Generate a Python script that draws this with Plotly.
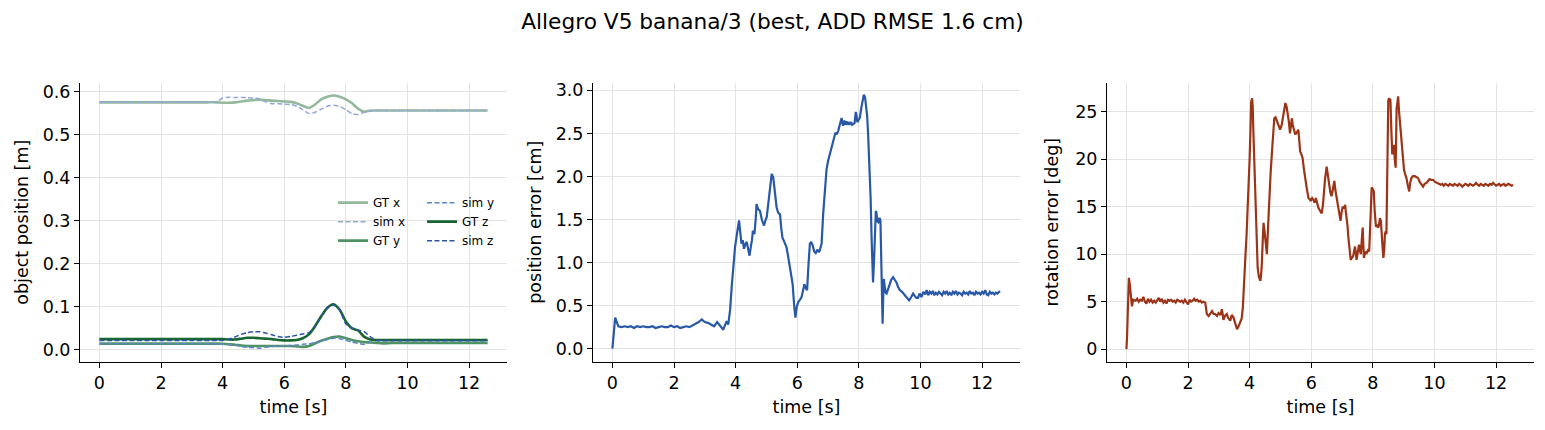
import plotly.graph_objects as go

# ---------------- data ----------------
t_obj = [0, 0.5, 1, 1.5, 2, 2.5, 3, 3.5, 3.8, 4.0, 4.2, 4.4, 4.6, 4.8, 5.0, 5.2, 5.4, 5.6, 5.8,
         6.0, 6.2, 6.4, 6.6, 6.8, 7.0, 7.2, 7.4, 7.6, 7.8, 8.0, 8.2, 8.4, 8.6, 8.8, 9.0, 9.2,
         9.5, 10, 10.5, 11, 11.5, 12, 12.6]
gt_x = [0.575, 0.575, 0.575, 0.575, 0.575, 0.575, 0.575, 0.575, 0.575, 0.574, 0.574, 0.575, 0.577,
        0.579, 0.580, 0.581, 0.580, 0.579, 0.578, 0.577, 0.576, 0.573, 0.567, 0.562, 0.570, 0.582,
        0.588, 0.591, 0.588, 0.582, 0.573, 0.560, 0.553, 0.556, 0.556, 0.556, 0.556, 0.556, 0.556,
        0.556, 0.556, 0.556, 0.556]
sim_x = [0.575, 0.575, 0.575, 0.575, 0.575, 0.575, 0.575, 0.575, 0.576, 0.585, 0.587, 0.586, 0.586,
         0.586, 0.585, 0.583, 0.576, 0.572, 0.572, 0.571, 0.570, 0.566, 0.558, 0.549, 0.552, 0.559,
         0.566, 0.568, 0.565, 0.558, 0.549, 0.547, 0.552, 0.555, 0.556, 0.556, 0.556, 0.556, 0.556,
         0.556, 0.556, 0.556, 0.556]
gt_y = [0.0145, 0.0145, 0.0145, 0.0145, 0.0145, 0.0145, 0.0145, 0.0145, 0.0145, 0.014, 0.013, 0.012,
        0.010, 0.009, 0.009, 0.009, 0.009, 0.009, 0.009, 0.009, 0.009, 0.008, 0.007, 0.009, 0.015,
        0.021, 0.026, 0.030, 0.031, 0.027, 0.023, 0.020, 0.018, 0.017, 0.016, 0.015, 0.016, 0.016,
        0.016, 0.016, 0.016, 0.016, 0.016]
sim_y = [0.014, 0.014, 0.014, 0.014, 0.014, 0.014, 0.014, 0.014, 0.014, 0.013, 0.012, 0.011, 0.008,
         0.006, 0.005, 0.004, 0.006, 0.008, 0.009, 0.009, 0.010, 0.011, 0.013, 0.014, 0.017, 0.021,
         0.024, 0.027, 0.026, 0.022, 0.018, 0.015, 0.013, 0.018, 0.021, 0.021, 0.021, 0.021, 0.021,
         0.021, 0.021, 0.021, 0.021]
gt_z = [0.025, 0.025, 0.025, 0.025, 0.025, 0.025, 0.025, 0.025, 0.025, 0.025, 0.024, 0.024, 0.026,
        0.028, 0.028, 0.027, 0.026, 0.025, 0.023, 0.022, 0.022, 0.023, 0.027, 0.036, 0.055, 0.078,
        0.098, 0.106, 0.093, 0.066, 0.050, 0.045, 0.030, 0.024, 0.023, 0.023, 0.023, 0.023, 0.023,
        0.023, 0.023, 0.023, 0.023]
sim_z = [0.022, 0.022, 0.022, 0.022, 0.022, 0.022, 0.022, 0.022, 0.022, 0.022, 0.025, 0.030, 0.036,
         0.040, 0.042, 0.042, 0.039, 0.035, 0.031, 0.029, 0.031, 0.034, 0.037, 0.040, 0.055, 0.078,
         0.097, 0.104, 0.092, 0.060, 0.050, 0.046, 0.042, 0.030, 0.022, 0.022, 0.022, 0.022, 0.022,
         0.022, 0.022, 0.022, 0.022]

t_pos = [0, 0.05, 0.09, 0.14, 0.19, 0.3, 0.4, 0.5, 0.6, 0.7, 0.8, 0.9, 1.0, 1.1, 1.2, 1.3, 1.4, 1.5,
         1.6, 1.7, 1.8, 1.9, 2.0, 2.1, 2.2, 2.3, 2.4, 2.5, 2.6, 2.7, 2.8, 2.9, 3.0, 3.1, 3.2, 3.3,
         3.4, 3.5, 3.6, 3.65, 3.71, 3.76, 3.82, 3.87, 3.93, 3.98, 4.05, 4.11, 4.15, 4.19, 4.23, 4.27,
         4.32, 4.36, 4.41, 4.45, 4.5, 4.53, 4.56, 4.61, 4.65, 4.68, 4.73, 4.79, 4.85, 4.92, 4.96,
         5.01, 5.08, 5.13, 5.17, 5.22, 5.28, 5.33, 5.38, 5.44, 5.48, 5.52, 5.58, 5.65, 5.7, 5.76,
         5.81, 5.85, 5.9, 5.94, 5.98, 6.03, 6.09, 6.14, 6.19, 6.23, 6.28, 6.32, 6.36, 6.41, 6.45,
         6.5, 6.55, 6.6, 6.65, 6.7, 6.73, 6.79, 6.84, 6.9, 6.95, 7.0, 7.06, 7.11, 7.16, 7.2, 7.24,
         7.28, 7.33, 7.38, 7.41, 7.44, 7.47, 7.49, 7.53, 7.57, 7.6, 7.64, 7.67, 7.71, 7.75, 7.78,
         7.82, 7.86, 7.9, 7.92, 7.95, 7.99, 8.03, 8.08, 8.12, 8.16, 8.2, 8.23, 8.27, 8.3, 8.34, 8.38,
         8.42, 8.46, 8.5, 8.53, 8.55, 8.57, 8.6, 8.63, 8.67, 8.7, 8.73, 8.77, 8.79, 8.81, 8.84, 8.87,
         8.9, 8.95, 9.0, 9.05, 9.11, 9.16, 9.22, 9.27, 9.33, 9.4, 9.49, 9.55, 9.63, 9.7, 9.76, 9.82,
         9.87, 9.92, 9.97, 10.03, 10.09, 10.15, 10.2, 10.25, 10.3, 10.35, 10.4, 10.45, 10.5, 10.55,
         10.6, 10.65, 10.7, 10.75, 10.8, 10.85, 10.9, 10.95, 11.0, 11.05, 11.1, 11.15, 11.2, 11.25,
         11.3, 11.35, 11.4, 11.45, 11.5, 11.55, 11.6, 11.65, 11.7, 11.75, 11.8, 11.85, 11.9, 11.95,
         12.0, 12.05, 12.1, 12.15, 12.2, 12.25, 12.3, 12.35, 12.4, 12.45, 12.5, 12.55, 12.58]
pos_err = [0.0, 0.2, 0.36, 0.31, 0.26, 0.25, 0.26, 0.25, 0.26, 0.24, 0.26, 0.25, 0.26, 0.25, 0.25,
           0.26, 0.24, 0.25, 0.26, 0.25, 0.25, 0.27, 0.25, 0.26, 0.24, 0.25, 0.26, 0.25, 0.27, 0.29,
           0.31, 0.34, 0.31, 0.30, 0.28, 0.26, 0.31, 0.27, 0.22, 0.27, 0.32, 0.28, 0.45, 0.71, 0.95,
           1.18, 1.35, 1.49, 1.35, 1.22, 1.26, 1.16, 1.22, 1.24, 1.15, 1.08, 1.2, 1.26, 1.37, 1.33,
           1.5, 1.68, 1.62, 1.60, 1.50, 1.43, 1.48, 1.53, 1.75, 1.95, 2.03, 1.99, 1.8, 1.64, 1.58,
           1.56, 1.40, 1.29, 1.24, 1.18, 1.08, 0.95, 0.84, 0.75, 0.5, 0.36, 0.48, 0.54, 0.57, 0.60,
           0.68, 0.75, 0.7, 0.68, 0.95, 1.22, 1.24, 1.20, 1.13, 1.11, 1.15, 1.12, 1.14, 1.22, 1.56,
           1.85, 2.08, 2.18, 2.26, 2.33, 2.39, 2.45, 2.51, 2.49, 2.53, 2.6, 2.66, 2.68, 2.61, 2.59,
           2.65, 2.6, 2.64, 2.6, 2.63, 2.61, 2.63, 2.6, 2.61, 2.62, 2.75, 2.72, 2.63, 2.65, 2.68,
           2.8, 2.9, 2.95, 2.92, 2.84, 2.7, 2.49, 2.15, 1.76, 1.2, 0.77, 1.1, 1.45, 1.6, 1.58, 1.48,
           1.47, 1.52, 1.49, 1.0, 0.29, 0.6, 0.81, 0.72, 0.65, 0.64, 0.7, 0.75, 0.80, 0.83, 0.8,
           0.77, 0.72, 0.68, 0.66, 0.62, 0.6, 0.56, 0.6, 0.64, 0.61, 0.59, 0.59, 0.64, 0.60, 0.66,
           0.63, 0.68, 0.62, 0.66, 0.64, 0.67, 0.62, 0.65, 0.63, 0.66, 0.64, 0.62, 0.66, 0.64, 0.67,
           0.63, 0.65, 0.62, 0.66, 0.64, 0.67, 0.63, 0.65, 0.64, 0.62, 0.66, 0.64, 0.65, 0.63, 0.67,
           0.64, 0.65, 0.62, 0.66, 0.64, 0.65, 0.63, 0.66, 0.64, 0.68, 0.63, 0.62, 0.66, 0.64, 0.65,
           0.63, 0.65, 0.64, 0.66, 0.67]

t_rot = [0, 0.02, 0.05, 0.08, 0.11, 0.13, 0.16, 0.18, 0.22, 0.3, 0.35, 0.4, 0.45, 0.5, 0.55, 0.6,
         0.65, 0.7, 0.75, 0.8, 0.85, 0.9, 0.95, 1.0, 1.05, 1.1, 1.15, 1.2, 1.25, 1.3, 1.35, 1.4, 1.45,
         1.5, 1.55, 1.6, 1.65, 1.7, 1.75, 1.8, 1.85, 1.9, 1.95, 2.0, 2.05, 2.1, 2.15, 2.2, 2.25, 2.3,
         2.35, 2.4, 2.45, 2.5, 2.56, 2.61, 2.67, 2.72, 2.78, 2.83, 2.88, 2.94, 2.99, 3.05, 3.1, 3.15,
         3.2, 3.26, 3.3, 3.37, 3.42, 3.48, 3.53, 3.59, 3.64, 3.69, 3.74, 3.78, 3.82, 3.86, 3.9, 3.93,
         3.97, 4.0, 4.03, 4.05, 4.08, 4.1, 4.12, 4.15, 4.18, 4.21, 4.24, 4.26, 4.3, 4.35, 4.37, 4.39,
         4.42, 4.45, 4.48, 4.5, 4.53, 4.56, 4.6, 4.64, 4.68, 4.72, 4.76, 4.8, 4.84, 4.88, 4.93, 4.99,
         5.04, 5.08, 5.12, 5.16, 5.2, 5.23, 5.27, 5.31, 5.34, 5.37, 5.4, 5.42, 5.45, 5.48, 5.53, 5.58,
         5.61, 5.64, 5.68, 5.72, 5.76, 5.8, 5.85, 5.91, 5.95, 5.98, 6.03, 6.07, 6.11, 6.15, 6.19,
         6.23, 6.28, 6.34, 6.38, 6.41, 6.45, 6.5, 6.53, 6.56, 6.59, 6.62, 6.66, 6.7, 6.75, 6.78,
         6.82, 6.86, 6.9, 6.93, 6.95, 6.98, 7.02, 7.06, 7.1, 7.12, 7.15, 7.18, 7.2, 7.24, 7.28, 7.32,
         7.36, 7.39, 7.42, 7.45, 7.47, 7.51, 7.55, 7.58, 7.61, 7.64, 7.67, 7.69, 7.71, 7.75, 7.8,
         7.84, 7.88, 7.92, 7.96, 7.99, 8.03, 8.06, 8.1, 8.14, 8.18, 8.21, 8.23, 8.26, 8.28, 8.31,
         8.34, 8.37, 8.39, 8.42, 8.44, 8.47, 8.5, 8.53, 8.57, 8.6, 8.63, 8.66, 8.68, 8.71, 8.74,
         8.77, 8.8, 8.82, 8.85, 8.88, 8.91, 8.93, 8.97, 9.01, 9.05, 9.09, 9.13, 9.18, 9.21, 9.25,
         9.3, 9.36, 9.42, 9.47, 9.52, 9.58, 9.63, 9.68, 9.74, 9.79, 9.84, 9.9, 9.96, 10.02, 10.08,
         10.12, 10.2, 10.25, 10.3, 10.35, 10.4, 10.45, 10.5, 10.55, 10.6, 10.65, 10.7, 10.75, 10.8,
         10.85, 10.9, 10.95, 11.0, 11.05, 11.1, 11.15, 11.2, 11.25, 11.3, 11.35, 11.4, 11.45, 11.5,
         11.55, 11.6, 11.65, 11.7, 11.75, 11.8, 11.85, 11.9, 11.95, 12.0, 12.05, 12.1, 12.15, 12.2,
         12.25, 12.3, 12.35, 12.4, 12.45, 12.5, 12.55]
rot_err = [0, 1.2, 4.5, 7.5, 6.8, 5.9, 5.3, 4.5, 5.2, 5.1, 5.3, 5.0, 5.2, 5.1, 5.5, 5.0, 4.8, 5.3,
           5.0, 5.2, 4.9, 5.1, 4.9, 5.2, 5.4, 5.0, 5.3, 4.9, 5.1, 4.8, 5.2, 5.1, 5.2, 5.0, 5.1, 4.9,
           5.2, 5.1, 5.0, 5.1, 4.9, 5.2, 5.0, 4.7, 5.2, 5.0, 5.1, 5.3, 5.1, 5.2, 5.0, 5.1, 4.9, 5.0,
           4.9, 3.7, 3.5, 3.8, 4.0, 3.7, 3.7, 3.5, 3.8, 3.6, 4.2, 3.1, 3.5, 3.7, 3.3, 3.0, 3.6, 3.3,
           2.7, 2.1, 2.4, 2.8, 3.2, 4.4, 6.5, 9.6, 12.0, 14.2, 17.0, 20.1, 23.5, 26.0, 26.4, 25.5,
           23.0, 20.1, 16.5, 13.5, 10.5, 8.6, 7.6, 7.2, 7.8, 8.6, 11.0, 13.3, 12.5, 11.7, 10.5, 10.0,
           13.0, 16.3, 18.5, 20.5, 22.5, 24.3, 24.4, 24.0, 23.5, 23.1, 23.6, 24.3, 25.2, 25.9, 25.5,
           25.0, 24.0, 22.7, 23.5, 24.3, 23.6, 23.3, 23.0, 22.6, 22.8, 23.1, 22.0, 20.8, 20.5, 20.1,
           19.0, 18.0, 17.0, 15.9, 15.8, 15.6, 15.9, 15.7, 15.4, 15.9, 15.2, 14.9, 14.6, 14.3, 15.2,
           16.6, 18.0, 19.2, 18.5, 17.5, 16.8, 16.5, 16.1, 17.0, 17.7, 16.8, 15.9, 15.0, 14.2, 13.8,
           13.5, 14.3, 15.0, 14.8, 15.2, 14.5, 13.8, 12.9, 11.9, 10.6, 9.4, 9.6, 9.8, 10.3, 10.8,
           10.0, 9.4, 10.2, 11.0, 10.4, 10.0, 11.5, 12.8, 11.0, 9.6, 10.2, 10.1, 10.4, 10.3, 13.5,
           17.0, 16.9, 16.6, 14.5, 12.9, 13.0, 12.8, 13.3, 13.8, 13.5, 12.8, 11.0, 9.6, 10.5, 12.1,
           12.4, 12.1, 19.0, 26.2, 26.4, 26.2, 23.0, 20.5, 21.0, 21.5, 20.0, 19.1, 25.3, 26.3, 26.6,
           25.0, 24.0, 22.8, 21.9, 20.3, 18.9, 18.4, 18.0, 17.3, 16.6, 17.5, 18.0, 18.2, 18.2, 18.1,
           18.0, 17.6, 17.3, 17.1, 17.4, 17.5, 17.7, 17.9, 17.8, 17.8, 17.6, 17.5, 17.4, 17.3, 17.4,
           17.2, 17.4, 17.3, 17.2, 17.4, 17.3, 17.2, 17.4, 17.3, 17.2, 17.4, 17.3, 17.1, 17.3, 17.4,
           17.3, 17.2, 17.4, 17.3, 17.2, 17.3, 17.5, 17.3, 17.2, 17.4, 17.3, 17.2, 17.4, 17.3, 17.2,
           17.4, 17.3, 17.5, 17.3, 17.2, 17.3, 17.4, 17.2, 17.3, 17.4, 17.2, 17.3, 17.4, 17.3, 17.2,
           17.3]

title_text = "Allegro V5 banana/3 (best, ADD RMSE 1.6 cm)"

# ---------------- layout helpers ----------------
W, H = 1545, 430
TOP, BOT = 81, 361.5
ydom = [(H - BOT) / H, (H - TOP) / H]
xdoms = [[80 / W, 507 / W], [593 / W, 1020 / W], [1107 / W, 1534 / W]]
xr = [-0.63, 13.23]

FONT = "DejaVu Sans, Liberation Sans, sans-serif"
FS = 17.5

fig = go.Figure()

obj_series = [
    ("GT x", gt_x, "#93b89b", 2.6, "solid", "legend"),
    ("sim x", sim_x, "#90a9d9", 1.5, "5px,2.5px", "legend"),
    ("GT y", gt_y, "#4f9264", 2.6, "solid", "legend"),
    ("sim y", sim_y, "#5f86cb", 1.5, "5px,2.5px", "legend2"),
    ("GT z", gt_z, "#17652f", 2.6, "solid", "legend2"),
    ("sim z", sim_z, "#2a56a8", 1.5, "5px,2.5px", "legend2"),
]
for name, vals, col, lw, dash, lg in obj_series:
    fig.add_trace(go.Scatter(x=t_obj, y=vals, mode="lines", name=name,
                             line=dict(color=col, width=lw, dash=dash, shape="spline", smoothing=0.6),
                             xaxis="x", yaxis="y", legend=lg))

fig.add_trace(go.Scatter(x=t_pos, y=pos_err, mode="lines", showlegend=False,
                         line=dict(color="#2858a6", width=2.2), xaxis="x2", yaxis="y2"))
fig.add_trace(go.Scatter(x=t_rot, y=rot_err, mode="lines", showlegend=False,
                         line=dict(color="#9c3418", width=2.2), xaxis="x3", yaxis="y3"))

axis_common = dict(showline=True, linecolor="black", linewidth=1, ticks="outside", ticklen=5,
                   tickwidth=1, tickcolor="black", showgrid=True, gridcolor="#e3e3e3", gridwidth=1,
                   zeroline=False, tickfont=dict(size=FS, color="black", family=FONT),
                   mirror=False)

layout = dict(
    width=W, height=H, margin=dict(l=0, r=0, t=0, b=0, pad=0),
    paper_bgcolor="white", plot_bgcolor="white",
    font=dict(family=FONT, size=FS, color="black"),
    title=dict(text=title_text, x=0.5, xanchor="center", y=1 - 21 / H, yanchor="middle",
               font=dict(size=21.7, color="black", family=FONT)),
)
ylabels = ["object position [m]", "position error [cm]", "rotation error [deg]"]
yranges = [[-0.0278, 0.6208], [-0.1525, 3.09], [-1.33, 28.05]]
ydticks = [0.1, 0.5, 5]
ytickfmt = [".1f", ".1f", "d"]
ystandoff = [9, 9, 12]
for i in range(3):
    sx = "" if i == 0 else str(i + 1)
    layout["xaxis" + sx] = dict(axis_common, domain=xdoms[i], range=xr, dtick=2, tick0=0,
                               anchor="y" + sx,
                               title=dict(text="time [s]", font=dict(size=FS, color="black"),
                                          standoff=8))
    layout["yaxis" + sx] = dict(axis_common, domain=ydom, range=yranges[i], dtick=ydticks[i],
                               tick0=0, tickformat=ytickfmt[i], anchor="x" + sx,
                               title=dict(text=ylabels[i], font=dict(size=FS, color="black"),
                                          standoff=ystandoff[i]))

LFS = 12
layout["legend"] = dict(x=333 / W, y=(H - 187) / H, xanchor="left", yanchor="top",
                        bgcolor="rgba(255,255,255,0)", font=dict(size=LFS, color="black"),
                        tracegroupgap=0, itemwidth=30, traceorder="normal")
layout["legend2"] = dict(x=422 / W, y=(H - 187) / H, xanchor="left", yanchor="top",
                         bgcolor="rgba(255,255,255,0)", font=dict(size=LFS, color="black"),
                         tracegroupgap=0, itemwidth=30, traceorder="normal")

fig.update_layout(**layout)
fig.write_html("out.html")
